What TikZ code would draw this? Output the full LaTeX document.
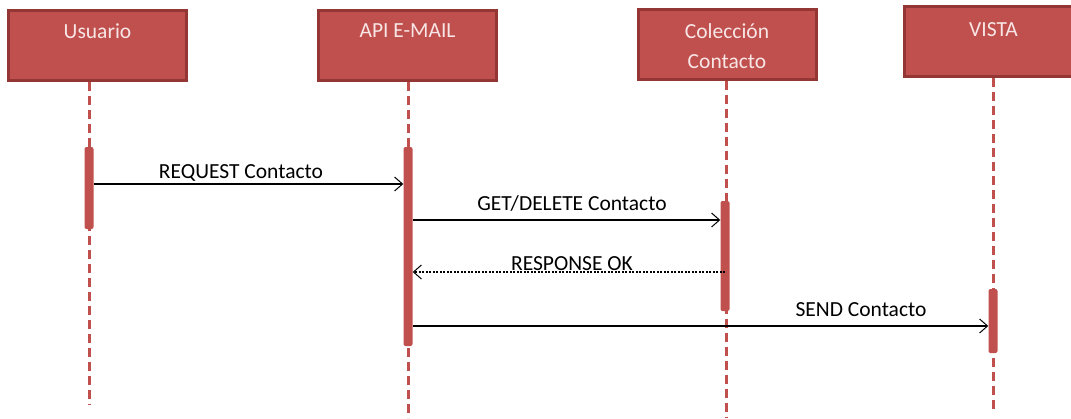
\documentclass[tikz,border=0pt]{standalone}
\usepackage{fontspec}
\setmainfont{Carlito}
\usepackage{xcolor}
\usetikzlibrary{arrows.meta}
\definecolor{boxred}{HTML}{C0504D}
\definecolor{darkred}{HTML}{943634}
\definecolor{boxtext}{HTML}{F8E6E6}

\begin{document}
\begin{tikzpicture}[x=1pt,y=-1pt,
	font=\fontsize{21.5}{30}\selectfont,
	actor/.style={draw=darkred,line width=3pt,fill=boxred,minimum width=178pt,minimum height=70pt,inner sep=0pt},
	actorname/.style={text=boxtext,inner sep=0pt,align=center,anchor=north,yshift=-15pt},
	lifeline/.style={draw=boxred,line width=3pt,dash pattern=on 9pt off 5pt},
	activation/.style={fill=boxred,rounded corners=2pt,minimum width=9pt,inner sep=0pt},
	msg/.style={line width=1.2pt,-{Straight Barb[length=8pt,width=14pt,line width=1pt]}},
	reply/.style={msg,dash pattern=on 2pt off 1.5pt},
	msglabel/.style={anchor=base,inner sep=0pt}]
	\useasboundingbox (0,0) rectangle (1071,418);
	\node	(usuario) at (97.5,45.5) [actor,label={[actorname]north:Usuario}] {};
	\node	(api) at (407.5,45.5) [actor,label={[actorname]north:API E-MAIL}] {};
	\node	(coleccion) at (727,44) [actor,label={[actorname,yshift=-1pt]north:Colección\\Contacto}] {};
	\node	(vista) at (993.5,41.5) [actor,label={[actorname,yshift=-2pt]north:VISTA}] {};
	\coordinate	(usuarioend) at (89,405);
	\coordinate	(apiend) at (408,418);
	\coordinate	(coleccionend) at (726,418);
	\coordinate	(vistaend) at (993,410);
	\draw[lifeline] (usuarioend |- usuario.south) -- (usuarioend);
	\draw[lifeline] (apiend |- api.south) -- (apiend);
	\draw[lifeline] (coleccionend |- coleccion.south) -- (coleccionend);
	\draw[lifeline] (vistaend |- vista.south) -- (vistaend);
	\node	(usuariobar) at (89,188) [activation,minimum height=82pt] {};
	\node	(apibar) at (408,246.5) [activation,minimum height=199pt] {};
	\node	(coleccionbar) at (725,256) [activation,minimum height=110pt] {};
	\node	(vistabar) at (993,321) [activation,minimum height=64pt] {};
	\coordinate	(request) at (0,184);
	\coordinate	(get) at (0,220);
	\coordinate	(response) at (0,272);
	\coordinate	(send) at (0,326);
	\draw[msg] (usuariobar.east |- request) -- (apibar.west |- request);
	\draw[msg] (apibar.east |- get) -- (coleccionbar.west |- get);
	\draw[reply] (coleccionbar.center |- response) -- (apibar.east |- response);
	\draw[msg] (apibar.east |- send) -- (vistabar.west |- send);
	\node	(requestlabel) at (241,178) [msglabel] {REQUEST Contacto};
	\node	(getlabel) at (572,210) [msglabel] {GET/DELETE Contacto};
	\node	(responselabel) at (572,270) [msglabel] {RESPONSE OK};
	\node	(sendlabel) at (861,316) [msglabel] {SEND Contacto};
\end{tikzpicture}
\end{document}
